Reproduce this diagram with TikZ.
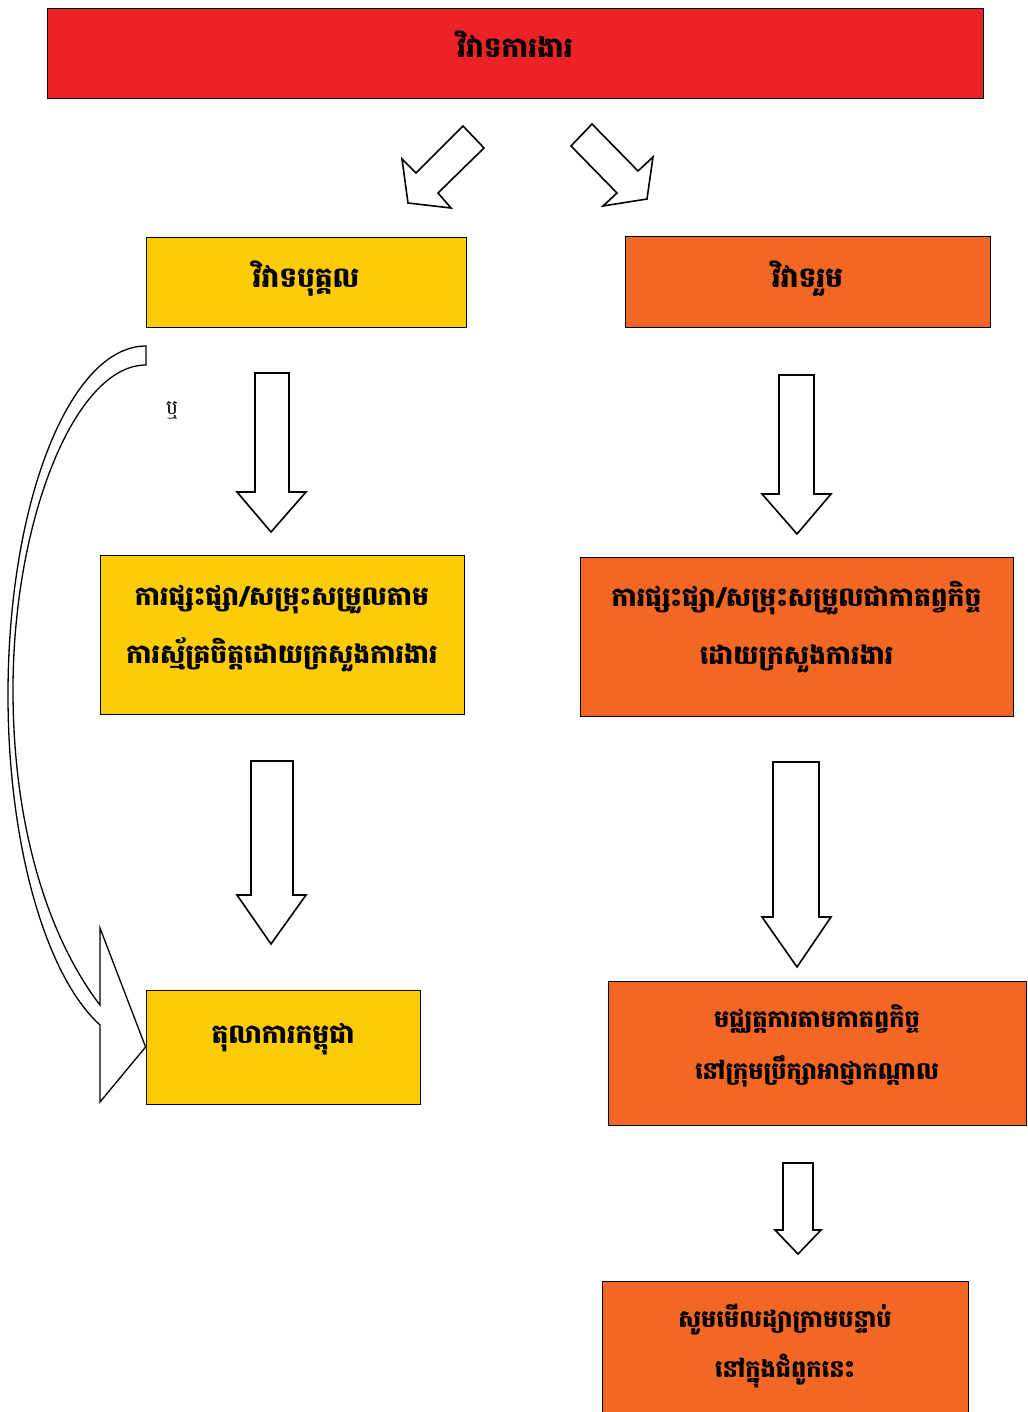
\documentclass[tikz,border=0pt]{standalone}
\usepackage{fontspec}
\newfontfamily\khmerfont[Script=Khmer]{Battambang}
\definecolor{disputered}{RGB}{237,34,39}
\definecolor{personyellow}{RGB}{254,204,7}
\definecolor{grouporange}{RGB}{241,103,35}

\begin{document}
\begin{tikzpicture}[x=1pt, y=-1pt, box/.style={rectangle, draw=black, line width=0.8pt, inner sep=0pt, align=center, font=\khmerfont\bfseries\fontsize{26.5}{58}\selectfont}, bigtext/.style={font=\khmerfont\bfseries\fontsize{28}{58}\selectfont}, smalltext/.style={font=\khmerfont\bfseries\fontsize{24}{52}\selectfont}, blockarrow/.style={draw=black, fill=white, line width=1.6pt, line join=miter}]
	\useasboundingbox (0,0) rectangle (1027,1412);

	% Nodes
	\node[box, bigtext, text height=20pt, text depth=11pt, fill=disputered, minimum width=936pt, minimum height=90pt] (dispute) at (515,53) {វិវាទការងារ};
	\node[box, bigtext, text height=20pt, text depth=9pt, fill=personyellow, minimum width=320pt, minimum height=90pt] (person) at (306,282) {វិវាទបុគ្គល};
	\node[box, bigtext, text height=20pt, text depth=8pt, fill=grouporange, minimum width=365pt, minimum height=91pt] (group) at (807.5,281.5) {វិវាទរួម};
	\node[box, text height=77pt, text depth=20pt, fill=personyellow, minimum width=364pt, minimum height=159pt] (voluntary) at (282,634.5) {ការផ្សះផ្សា/សម្រុះសម្រួលតាម\\ការស្ម័គ្រចិត្តដោយក្រសួងការងារ};
	\node[box, text height=75pt, text depth=20pt, fill=grouporange, minimum width=433pt, minimum height=159pt] (compulsory) at (796.5,636.5) {ការផ្សះផ្សា/សម្រុះសម្រួលជាកាតព្វកិច្ច\\ដោយក្រសួងការងារ};
	\node[box, text height=20pt, text depth=27pt, fill=personyellow, minimum width=274pt, minimum height=114pt] (court) at (283,1047) {តុលាការកម្ពុជា};
	\node[box, smalltext, text height=72.6pt, text depth=20pt, fill=grouporange, minimum width=418pt, minimum height=144pt] (arbitration) at (817,1053) {មជ្ឈត្តការតាមកាតព្វកិច្ច\\នៅក្រុមប្រឹក្សាអាជ្ញាកណ្ដាល};
	\node[box, smalltext, text height=62.6pt, text depth=20pt, fill=grouporange, minimum width=366pt, minimum height=150pt] (nextchart) at (785,1356) {សូមមើលដ្យាក្រាមបន្ទាប់\\[-2pt]នៅក្នុងជំពូកនេះ};
	\node[font=\khmerfont\fontsize{20}{20}\selectfont] (orlabel) at (172,410) {ឬ};

	% Diagonal arrows from the top box
	\draw[blockarrow] (463,126) -- (484,148) -- (438,193) -- (451,208) -- (408,203) -- (402,159) -- (416,173) -- cycle;
	\draw[blockarrow] (592,124) -- (638,171) -- (653,157) -- (647,199) -- (603,206) -- (617,193) -- (571,146) -- cycle;

	% Down arrows
	\draw[blockarrow] (255,373) -- (289,373) -- (289,492) -- (306,492) -- (271,532) -- (237,492) -- (255,492) -- cycle;
	\draw[blockarrow] (251,761) -- (293,761) -- (293,895) -- (306,895) -- (271,944) -- (237,895) -- (251,895) -- cycle;
	\draw[blockarrow] (779,375) -- (814,375) -- (814,494) -- (831,494) -- (797,534) -- (762,494) -- (779,494) -- cycle;
	\draw[blockarrow] (773,762) -- (819,762) -- (819,917) -- (831,917) -- (797,967) -- (762,917) -- (773,917) -- cycle;
	\draw[blockarrow] (783,1163) -- (813,1163) -- (813,1230) -- (821,1230) -- (798,1254) -- (775,1230) -- (783,1230) -- cycle;

	% Curved arrow to the court
	\draw[blockarrow, line width=1.3pt] (146,346) .. controls (70,346) and (8,502) .. (8,695) .. controls (8,843) and (45,975) .. (100,1025) -- (100,1102) -- (court.west) -- (100,928) -- (100,1005) .. controls (50,940) and (13,830) .. (13,690) .. controls (13,520) and (75,365) .. (146,365) -- cycle;
\end{tikzpicture}
\end{document}
